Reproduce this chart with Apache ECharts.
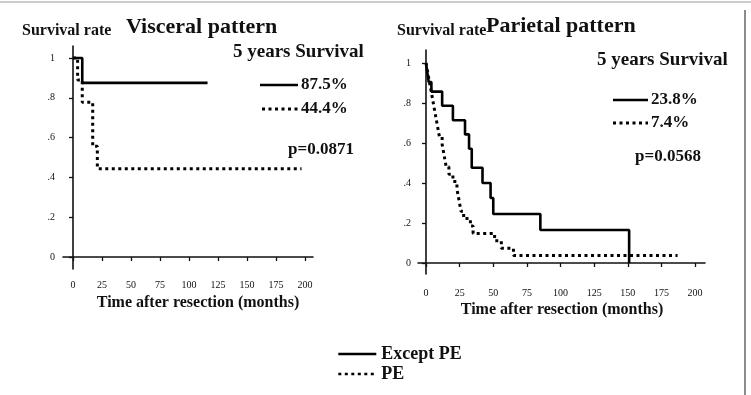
<!DOCTYPE html>
<html>
<head>
<meta charset="UTF-8">
<title>Survival rate</title>
<script src="https://cdn.jsdelivr.net/npm/echarts@6/dist/echarts.min.js"></script>
<style>
  html, body { margin: 0; padding: 0; background: #fff; }
  #chart { width: 751px; height: 395px; }
</style>
</head>
<body>
<div id="chart"></div>
<script>
// visceral pattern (months, survival)
const visTimeExc = [0, 8, 116];
const visSurvExc = [1, 0.875, 0.875];
const visTimePE = [0, 4, 8, 17, 21, 197];
const visSurvPE = [1, 0.889, 0.778, 0.556, 0.444, 0.444];

// parietal pattern
const parTimeExc = [0, 1, 2, 4, 12, 20, 29, 32, 34, 42, 48, 50, 85, 151];
const parSurvExc = [1, 0.952, 0.905, 0.857, 0.786, 0.714, 0.643, 0.571, 0.476, 0.4, 0.325, 0.245, 0.165, 0];
const parTimePE = [0, 1, 2, 3, 4, 5, 6, 7, 8, 9, 10, 12, 13, 14, 15, 17, 20, 23, 24, 25, 26, 28, 33, 35, 51, 56, 65, 187];
const parSurvPE = [1, 0.963, 0.926, 0.889, 0.852, 0.815, 0.778, 0.741, 0.704, 0.667, 0.63, 0.593, 0.556, 0.519,
                   0.481, 0.444, 0.407, 0.37, 0.333, 0.296, 0.259, 0.222, 0.185, 0.148, 0.111, 0.074, 0.037, 0.037];

const xTicks = [0, 25, 50, 75, 100, 125, 150, 175, 200];
const yTicks = [0, 0.2, 0.4, 0.6, 0.8, 1];
const yTickText = { 0: '0', 0.2: '.2', 0.4: '.4', 0.6: '.6', 0.8: '.8', 1: '1' };

const groupNames = ['Except PE', 'PE'];
const fiveYear = { visceral: ['87.5%', '44.4%'], parietal: ['23.8%', '7.4%'] };
const pValues = { visceral: 'p=0.0871', parietal: 'p=0.0568' };

const serif = '"Liberation Serif", "DejaVu Serif", serif';
const pairs = (t, s) => t.map((v, i) => [v, s[i]]);

function xAxisOf(idx, min, max, margin) {
  return {
    type: 'value', gridIndex: idx, min: min, max: max,
    axisLine: { lineStyle: { color: '#111', width: 1.6 } },
    axisTick: { customValues: xTicks, length: 4, lineStyle: { color: '#111', width: 1.3 } },
    axisLabel: { customValues: xTicks, margin: margin, color: '#111', fontSize: 10, fontFamily: serif },
    splitLine: { show: false }
  };
}
function yAxisOf(idx, min, max, margin) {
  return {
    type: 'value', gridIndex: idx, min: min, max: max,
    axisLine: { show: true, lineStyle: { color: '#111', width: 1.6 } },
    axisTick: { show: true, customValues: yTicks, length: 4, lineStyle: { color: '#111', width: 1.3 } },
    axisLabel: {
      customValues: yTicks, margin: margin, color: '#111', fontSize: 10, fontFamily: serif,
      formatter: v => yTickText[Math.round(v * 10) / 10]
    },
    splitLine: { show: false }
  };
}

const solidStyle = { color: '#000', width: 2.6, type: 'solid' };
const dotStyle = { color: '#000', width: 3, type: [3, 3.5] };

function kmSeries(name, idx, data, style) {
  return {
    name: name, type: 'line', step: 'end', xAxisIndex: idx, yAxisIndex: idx,
    data: data, symbol: 'none', lineStyle: style, itemStyle: { color: '#000' },
    silent: true, animation: false
  };
}

function txt(x, y, text, size, align) {
  return {
    type: 'text', x: x, y: y,
    style: { text: text, font: 'bold ' + size + 'px ' + serif, fill: '#111',
             align: align || 'left', verticalAlign: 'middle' }
  };
}
function sample(x1, x2, y, style) {
  return {
    type: 'line', shape: { x1: x1, y1: y, x2: x2, y2: y },
    style: { stroke: '#000', lineWidth: style.width, lineDash: style.type === 'solid' ? null : style.type }
  };
}

const chart = echarts.init(document.getElementById('chart'));
chart.setOption({
  backgroundColor: '#fff',
  animation: false,
  grid: [
    { left: 63, top: 46, width: 250, height: 223 },
    { left: 418, top: 50, width: 287, height: 224 }
  ],
  xAxis: [xAxisOf(0, -8.6, 206.9, 11), xAxisOf(1, -5.95, 207.4, 14)],
  yAxis: [yAxisOf(0, -0.06, 1.06, 8), yAxisOf(1, -0.055, 1.065, 7)],
  legend: {
    data: groupNames, orient: 'vertical', left: 332, top: 340,
    itemWidth: 38, itemHeight: 12, itemGap: 2, selectedMode: false,
    itemStyle: { opacity: 0, borderWidth: 0 },
    lineStyle: { width: 2.6 },
    textStyle: { fontFamily: serif, fontWeight: 'bold', fontSize: 18, color: '#111' }
  },
  series: [
    kmSeries(groupNames[0], 0, pairs(visTimeExc, visSurvExc), solidStyle),
    kmSeries(groupNames[1], 0, pairs(visTimePE, visSurvPE), dotStyle),
    kmSeries(groupNames[0], 1, pairs(parTimeExc, parSurvExc), solidStyle),
    kmSeries(groupNames[1], 1, pairs(parTimePE, parSurvPE), dotStyle)
  ],
  graphic: [
    // scan frame remnants
    { type: 'line', shape: { x1: 745, y1: 10, x2: 745, y2: 395 }, style: { stroke: '#666', lineWidth: 1.5 } },
    { type: 'line', shape: { x1: 0, y1: 2, x2: 751, y2: 2 }, style: { stroke: '#bbb', lineWidth: 1.5 } },

    txt(22, 31, 'Survival rate', 16),
    txt(126, 27, 'Visceral pattern', 22),
    txt(233, 52, '5 years Survival', 19),
    sample(260, 298, 85, solidStyle), txt(301, 85, fiveYear.visceral[0], 17),
    sample(262, 298, 109, dotStyle), txt(301, 109, fiveYear.visceral[1], 17),
    txt(288, 150, pValues.visceral, 17),
    txt(198, 303, 'Time after resection (months)', 16, 'center'),

    txt(397, 31, 'Survival rate', 16),
    txt(486, 26, 'Parietal pattern', 22),
    txt(597, 60, '5 years Survival', 19),
    sample(613, 648, 100, solidStyle), txt(651, 100, fiveYear.parietal[0], 17),
    sample(613, 648, 123, dotStyle), txt(651, 123, fiveYear.parietal[1], 17),
    txt(635, 157, pValues.parietal, 17),
    txt(562, 310, 'Time after resection (months)', 16, 'center')
  ]
});
</script>
</body>
</html>
